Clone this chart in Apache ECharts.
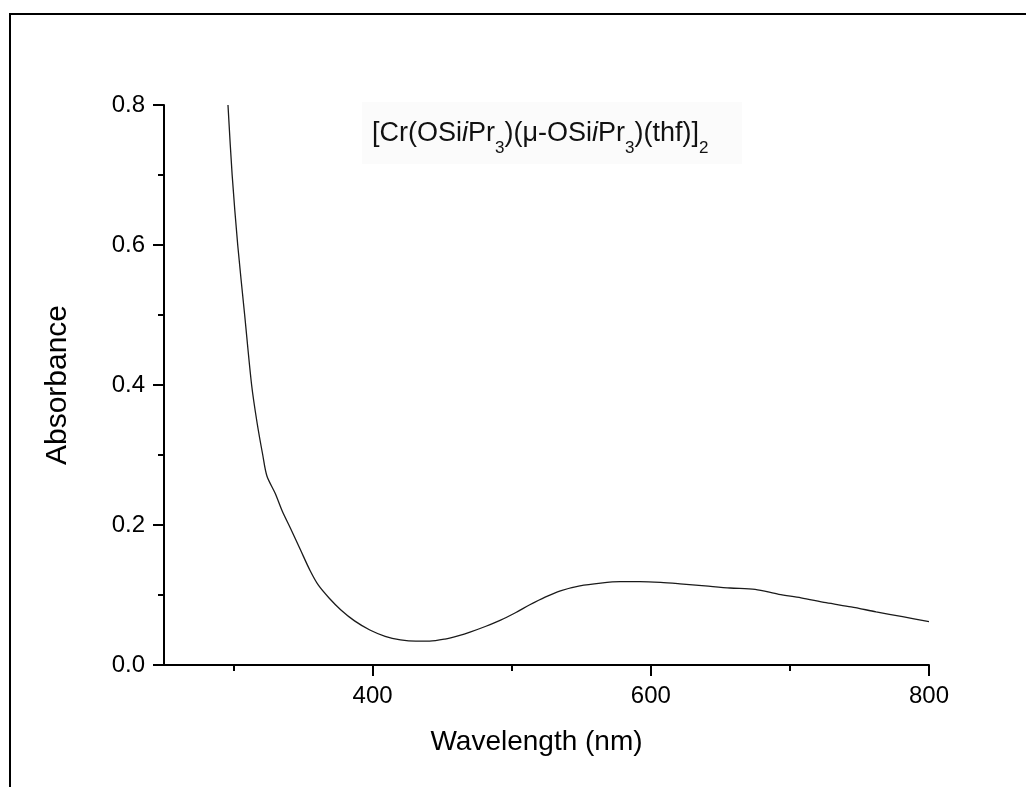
<!DOCTYPE html>
<html>
<head>
<meta charset="utf-8">
<script src="https://cdn.jsdelivr.net/npm/echarts@6/dist/echarts.min.js"></script>
<style>
html,body{margin:0;padding:0;background:#fff;}
#chart{width:1026px;height:787px;}
</style>
</head>
<body>
<div id="chart"></div>
<script>
// Data
const wavelength = [296, 299, 303, 308, 313, 317, 321, 324, 330, 335, 341, 348, 355, 361, 369, 377, 387, 398, 409, 420, 431, 441, 452, 462, 470, 481, 492, 503, 513, 524, 535, 549, 564, 578, 592, 607, 621, 639, 657, 675, 692, 708, 726, 744, 762, 781, 800];
const absorbance = [0.80, 0.70, 0.60, 0.50, 0.40, 0.345, 0.30, 0.27, 0.245, 0.22, 0.195, 0.165, 0.135, 0.114, 0.095, 0.079, 0.063, 0.050, 0.041, 0.036, 0.034, 0.034, 0.037, 0.042, 0.047, 0.055, 0.064, 0.075, 0.086, 0.097, 0.106, 0.113, 0.117, 0.119, 0.119, 0.118, 0.116, 0.113, 0.110, 0.108, 0.101, 0.096, 0.089, 0.083, 0.076, 0.069, 0.062];
const xMajorTicks = [400, 600, 800];
const xMinorTicks = [300, 500, 700];
const xAxisTitle = 'Wavelength (nm)';
const yAxisTitle = 'Absorbance';

const seriesData = wavelength.map((w, i) => [w, absorbance[i]]);
const FONT = '"Liberation Sans", Arial, sans-serif';

const chart = echarts.init(document.getElementById('chart'), null, {renderer: 'canvas'});
chart.setOption({
  animation: false,
  backgroundColor: '#fff',
  grid: {left: 164, right: 97, top: 105, bottom: 122, containLabel: false},
  graphic: [
    {type: 'polyline', shape: {points: [[10, 787], [10, 14], [1026, 14]]}, style: {stroke: '#000', lineWidth: 2, fill: null}, silent: true},
    {type: 'rect', shape: {x: 362, y: 102, width: 380, height: 62}, style: {fill: '#fbfbfb'}, silent: true, z: 0},
    {type: 'text', left: 372, top: 120, z: 10,
      style: {
        text: '{n|[Cr(OSi}{it|i}{n|Pr}{sub|3}{n|)(μ-OSi}{it|i}{n|Pr}{sub|3}{n|)(thf)]}{sub|2}',
        rich: {
          n: {fontFamily: FONT, fontSize: 27, fill: '#111', verticalAlign: 'bottom', lineHeight: 30},
          it: {fontFamily: FONT, fontSize: 27, fontStyle: 'italic', fill: '#111', verticalAlign: 'bottom', lineHeight: 30},
          sub: {fontFamily: FONT, fontSize: 17, fill: '#111', verticalAlign: 'bottom', lineHeight: 18, padding: [0, 0, -10, 0]}
        }
      }
    }
  ],
  xAxis: [
    {
      type: 'value', min: 250, max: 800, position: 'bottom',
      name: xAxisTitle, nameLocation: 'middle', nameGap: 63,
      nameTextStyle: {fontFamily: FONT, fontSize: 28, color: '#000', padding: [0, 20, 0, 0]},
      axisLine: {show: true, onZero: false, lineStyle: {color: '#000', width: 2}},
      axisTick: {show: true, customValues: xMajorTicks, length: 11, inside: false, lineStyle: {color: '#000', width: 2}},
      axisLabel: {show: true, customValues: xMajorTicks, margin: 19, fontFamily: FONT, fontSize: 24, color: '#000'},
      splitLine: {show: false}
    },
    {
      type: 'value', min: 250, max: 800, position: 'bottom', offset: 0,
      axisLine: {show: false},
      axisTick: {show: true, customValues: xMinorTicks, length: 6, inside: false, lineStyle: {color: '#000', width: 2}},
      axisLabel: {show: false},
      splitLine: {show: false}
    }
  ],
  yAxis: {
    type: 'value', min: 0, max: 0.8, interval: 0.2,
    name: yAxisTitle, nameLocation: 'middle', nameGap: 91, nameRotate: 90,
    nameTextStyle: {fontFamily: FONT, fontSize: 30, color: '#000'},
    axisLine: {show: true, onZero: false, lineStyle: {color: '#000', width: 2}},
    axisTick: {show: true, length: 11, inside: false, lineStyle: {color: '#000', width: 2}},
    minorTick: {show: true, splitNumber: 2, length: 6, lineStyle: {color: '#000', width: 2}},
    axisLabel: {margin: 19, fontFamily: FONT, fontSize: 24, color: '#000', formatter: v => v.toFixed(1)},
    splitLine: {show: false}
  },
  series: [{
    type: 'line', xAxisIndex: 0, data: seriesData, showSymbol: false, smooth: 0.3,
    lineStyle: {color: '#1a1a1a', width: 1.3}
  }]
});
</script>
</body>
</html>
